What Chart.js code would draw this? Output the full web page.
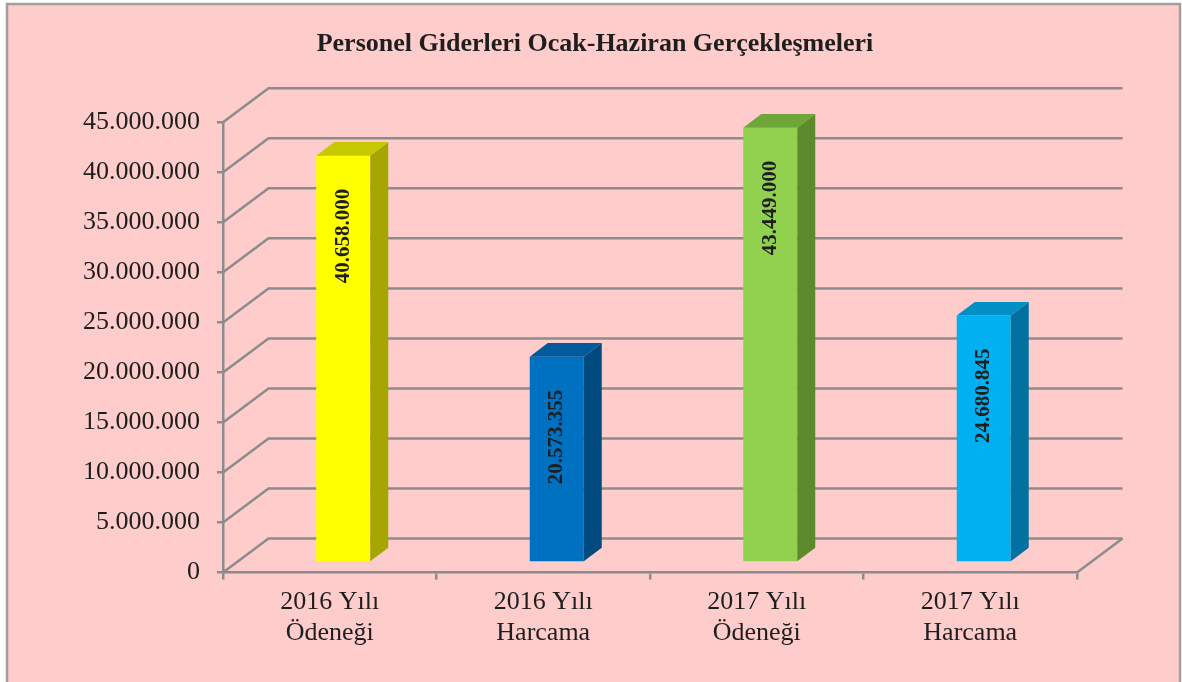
<!DOCTYPE html>
<html>
<head>
<meta charset="utf-8">
<script src="https://cdn.jsdelivr.net/npm/chart.js@4"></script>
<style>
  body { margin: 0; background: #fff; }
  canvas { display: block; }
</style>
</head>
<body>
<canvas id="myChart" width="1182" height="682"></canvas>
<script>
// data
const categories = [["2016 Yılı", "Ödeneği"], ["2016 Yılı", "Harcama"], ["2017 Yılı", "Ödeneği"], ["2017 Yılı", "Harcama"]];
const values = [40658000, 20573355, 43449000, 24680845];
const yMin = 0;
const yMax = 45000000;
const yStep = 5000000;

const frontColors = ["#FFFF00", "#0070C0", "#92D050", "#00B0F0"];
const sideColors = ["#A6A600", "#004A80", "#5E8A2E", "#0071A0"];
const topColors = ["#C8C800", "#005A9C", "#6FA63A", "#0090C6"];

const gridColor = "#8C8C8C";
const serif = "'Liberation Serif', 'Times New Roman', serif";

// depth of the 3d box and where the bars sit inside it
const DEPTH_X = 45.5, DEPTH_Y = -34;
const BAR_X = 13.5, BAR_Y = -10;
const BAR_DX = 18, BAR_DY = -13.6;

function dots(v) {
  return String(Math.round(v)).replace(/\B(?=(\d{3})+(?!\d))/g, ".");
}

//TODO: pink panel with grey frame behind the chart
const panel = {
  id: "panel",
  beforeDraw(chart) {
    const c = chart.ctx;
    c.save();
    c.fillStyle = "#fff";
    c.fillRect(0, 0, chart.width, chart.height);
    c.fillStyle = "#FFCCCC";
    c.fillRect(7, 4, 1173, 700);
    c.strokeStyle = "#A0A0A0";
    c.lineWidth = 2.5;
    c.strokeRect(7, 4, 1173, 700);
    c.restore();
  },
};

//TODO: back wall gridlines, the floor and the depth of the bars
const box3d = {
  id: "box3d",
  beforeDatasetsDraw(chart) {
    const c = chart.ctx;
    const y = chart.scales.y;
    const area = chart.chartArea;
    c.save();
    c.strokeStyle = gridColor;
    c.lineWidth = 2.5;
    y.ticks.forEach((t) => {
      const py = y.getPixelForValue(t.value);
      c.beginPath();
      c.moveTo(area.left, py);
      c.lineTo(area.left + DEPTH_X, py + DEPTH_Y);
      c.lineTo(area.right + DEPTH_X, py + DEPTH_Y);
      c.stroke();
    });
    const base = y.getPixelForValue(0);
    c.beginPath();
    c.moveTo(area.right, base);
    c.lineTo(area.right + DEPTH_X, base + DEPTH_Y);
    c.stroke();
    c.restore();
    c.save();
    c.translate(BAR_X, BAR_Y);
  },
  afterDatasetsDraw(chart) {
    const c = chart.ctx;
    c.restore();
    const meta = chart.getDatasetMeta(0);
    meta.data.forEach((bar, i) => {
      const l = bar.x - bar.width / 2 + BAR_X;
      const r = bar.x + bar.width / 2 + BAR_X;
      const top = bar.y + BAR_Y;
      const bottom = bar.base + BAR_Y;
      // side
      c.fillStyle = sideColors[i];
      c.beginPath();
      c.moveTo(r, top);
      c.lineTo(r + BAR_DX, top + BAR_DY);
      c.lineTo(r + BAR_DX, bottom + BAR_DY);
      c.lineTo(r, bottom);
      c.closePath();
      c.fill();
      // top
      c.fillStyle = topColors[i];
      c.beginPath();
      c.moveTo(l, top);
      c.lineTo(l + BAR_DX, top + BAR_DY);
      c.lineTo(r + BAR_DX, top + BAR_DY);
      c.lineTo(r, top);
      c.closePath();
      c.fill();
      // value label, rotated, near the top
      c.save();
      c.translate(bar.x + BAR_X, top);
      c.rotate(-Math.PI / 2);
      c.font = "bold 21px " + serif;
      c.fillStyle = "#1E1E1E";
      c.textAlign = "right";
      c.textBaseline = "middle";
      c.fillText(dots(values[i]), -33, 0);
      c.restore();
    });
  },
};

let canvas = document.getElementById("myChart").getContext("2d");
let myChart = new Chart(canvas, {
  type: "bar",
  data: {
    labels: categories,
    datasets: [
      {
        data: values,
        backgroundColor: frontColors,
        borderWidth: 0,
        barPercentage: 0.253,
        categoryPercentage: 1,
      },
    ],
  },
  options: {
    responsive: false,
    animation: false,
    layout: { padding: { left: 8, right: 0, top: 0, bottom: 26 } },
    plugins: {
      legend: { display: false },
      tooltip: { enabled: false },
      title: {
        display: true,
        text: "Personel Giderleri Ocak-Haziran Gerçekleşmeleri",
        color: "#1E1E1E",
        font: { family: serif, size: 26, weight: "bold" },
        padding: { top: 29, bottom: 62 },
      },
    },
    scales: {
      x: {
        grid: {
          offset: true,
          drawOnChartArea: false,
          drawTicks: true,
          tickLength: 7,
          color: gridColor,
          lineWidth: 2.5,
        },
        border: { color: gridColor, width: 2.5 },
        ticks: {
          color: "#1E1E1E",
          font: { family: serif, size: 26 },
          padding: 7,
          maxRotation: 0,
        },
      },
      y: {
        min: yMin,
        max: yMax,
        afterFit: (s) => {
          s.width = 215;
        },
        grid: {
          drawOnChartArea: false,
          drawTicks: true,
          tickLength: 6,
          color: gridColor,
          lineWidth: 2.5,
        },
        border: { color: gridColor, width: 2.5 },
        ticks: {
          stepSize: yStep,
          color: "#1E1E1E",
          font: { family: serif, size: 26 },
          padding: 17,
          callback: (v) => dots(v),
        },
      },
      // empty space on the right where the 3d depth goes
      yRight: {
        position: "right",
        afterFit: (s) => {
          s.width = 105;
        },
        grid: { display: false },
        border: { display: false },
        ticks: { display: false },
      },
    },
  },
  plugins: [panel, box3d],
});
</script>
</body>
</html>
